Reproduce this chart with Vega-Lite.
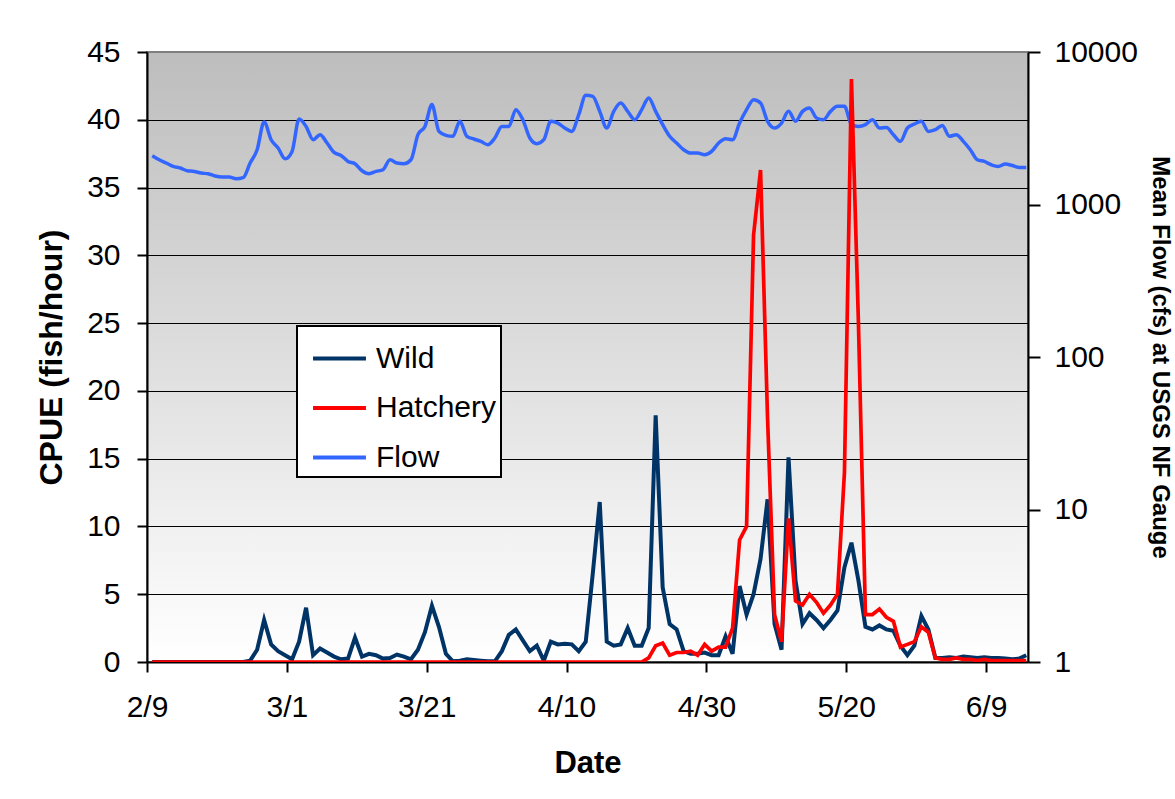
{
  "$schema": "https://vega.github.io/schema/vega-lite/v6.json",
  "autosize": {"type": "none"},
  "width": 881,
  "height": 610,
  "padding": {"left": 147, "top": 52, "right": 147, "bottom": 137},
  "background": "white",
  "data": {"values": [
    {"date":"2007-02-09T18:00:00","Wild":0,"Hatchery":0,"Flow":2089},
    {"date":"2007-02-10T18:00:00","Wild":0,"Hatchery":0,"Flow":1965},
    {"date":"2007-02-11T18:00:00","Wild":0,"Hatchery":0,"Flow":1870},
    {"date":"2007-02-12T18:00:00","Wild":0,"Hatchery":0,"Flow":1777},
    {"date":"2007-02-13T18:00:00","Wild":0,"Hatchery":0,"Flow":1735},
    {"date":"2007-02-14T18:00:00","Wild":0,"Hatchery":0,"Flow":1665},
    {"date":"2007-02-15T18:00:00","Wild":0,"Hatchery":0,"Flow":1648},
    {"date":"2007-02-16T18:00:00","Wild":0,"Hatchery":0,"Flow":1607},
    {"date":"2007-02-17T18:00:00","Wild":0,"Hatchery":0,"Flow":1592},
    {"date":"2007-02-18T18:00:00","Wild":0,"Hatchery":0,"Flow":1537},
    {"date":"2007-02-19T18:00:00","Wild":0,"Hatchery":0,"Flow":1514},
    {"date":"2007-02-20T18:00:00","Wild":0,"Hatchery":0,"Flow":1514},
    {"date":"2007-02-21T18:00:00","Wild":0,"Hatchery":0,"Flow":1475},
    {"date":"2007-02-22T18:00:00","Wild":0,"Hatchery":0,"Flow":1500},
    {"date":"2007-02-23T18:00:00","Wild":0.1,"Hatchery":0,"Flow":1870},
    {"date":"2007-02-24T18:00:00","Wild":0.9,"Hatchery":0,"Flow":2287},
    {"date":"2007-02-25T18:00:00","Wild":3.1,"Hatchery":0,"Flow":3475},
    {"date":"2007-02-26T18:00:00","Wild":1.3,"Hatchery":0,"Flow":2660},
    {"date":"2007-02-27T18:00:00","Wild":0.8,"Hatchery":0,"Flow":2345},
    {"date":"2007-02-28T18:00:00","Wild":0.5,"Hatchery":0,"Flow":1995},
    {"date":"2007-03-01T18:00:00","Wild":0.2,"Hatchery":0,"Flow":2230},
    {"date":"2007-03-02T18:00:00","Wild":1.5,"Hatchery":0,"Flow":3640},
    {"date":"2007-03-03T18:00:00","Wild":4.0,"Hatchery":0,"Flow":3250},
    {"date":"2007-03-04T18:00:00","Wild":0.5,"Hatchery":0,"Flow":2660},
    {"date":"2007-03-05T18:00:00","Wild":1.0,"Hatchery":0,"Flow":2870},
    {"date":"2007-03-06T18:00:00","Wild":0.7,"Hatchery":0,"Flow":2530},
    {"date":"2007-03-07T18:00:00","Wild":0.4,"Hatchery":0,"Flow":2196},
    {"date":"2007-03-08T18:00:00","Wild":0.2,"Hatchery":0,"Flow":2098},
    {"date":"2007-03-09T18:00:00","Wild":0.25,"Hatchery":0,"Flow":1915},
    {"date":"2007-03-10T18:00:00","Wild":1.8,"Hatchery":0,"Flow":1850},
    {"date":"2007-03-11T18:00:00","Wild":0.4,"Hatchery":0,"Flow":1665},
    {"date":"2007-03-12T18:00:00","Wild":0.6,"Hatchery":0,"Flow":1592},
    {"date":"2007-03-13T18:00:00","Wild":0.5,"Hatchery":0,"Flow":1648},
    {"date":"2007-03-14T18:00:00","Wild":0.25,"Hatchery":0,"Flow":1690},
    {"date":"2007-03-15T18:00:00","Wild":0.3,"Hatchery":0,"Flow":1965},
    {"date":"2007-03-16T18:00:00","Wild":0.55,"Hatchery":0,"Flow":1870},
    {"date":"2007-03-17T18:00:00","Wild":0.4,"Hatchery":0,"Flow":1850},
    {"date":"2007-03-18T18:00:00","Wild":0.2,"Hatchery":0,"Flow":1965},
    {"date":"2007-03-19T18:00:00","Wild":0.9,"Hatchery":0,"Flow":2870},
    {"date":"2007-03-20T18:00:00","Wild":2.2,"Hatchery":0,"Flow":3250},
    {"date":"2007-03-21T18:00:00","Wild":4.15,"Hatchery":0,"Flow":4518},
    {"date":"2007-03-22T18:00:00","Wild":2.6,"Hatchery":0,"Flow":3015},
    {"date":"2007-03-23T18:00:00","Wild":0.6,"Hatchery":0,"Flow":2840},
    {"date":"2007-03-24T18:00:00","Wild":0.05,"Hatchery":0,"Flow":2800},
    {"date":"2007-03-25T18:00:00","Wild":0.1,"Hatchery":0,"Flow":3510},
    {"date":"2007-03-26T18:00:00","Wild":0.2,"Hatchery":0,"Flow":2800},
    {"date":"2007-03-27T18:00:00","Wild":0.15,"Hatchery":0,"Flow":2688},
    {"date":"2007-03-28T18:00:00","Wild":0.1,"Hatchery":0,"Flow":2594},
    {"date":"2007-03-29T18:00:00","Wild":0.05,"Hatchery":0,"Flow":2466},
    {"date":"2007-03-30T18:00:00","Wild":0.05,"Hatchery":0,"Flow":2730},
    {"date":"2007-03-31T18:00:00","Wild":0.8,"Hatchery":0,"Flow":3250},
    {"date":"2007-04-01T18:00:00","Wild":2.0,"Hatchery":0,"Flow":3250},
    {"date":"2007-04-02T18:00:00","Wild":2.4,"Hatchery":0,"Flow":4187},
    {"date":"2007-04-03T18:00:00","Wild":1.6,"Hatchery":0,"Flow":3597},
    {"date":"2007-04-04T18:00:00","Wild":0.8,"Hatchery":0,"Flow":2730},
    {"date":"2007-04-05T18:00:00","Wild":1.2,"Hatchery":0,"Flow":2505},
    {"date":"2007-04-06T18:00:00","Wild":0.1,"Hatchery":0,"Flow":2660},
    {"date":"2007-04-07T18:00:00","Wild":1.5,"Hatchery":0,"Flow":3510},
    {"date":"2007-04-08T18:00:00","Wild":1.3,"Hatchery":0,"Flow":3420},
    {"date":"2007-04-09T18:00:00","Wild":1.35,"Hatchery":0,"Flow":3175},
    {"date":"2007-04-10T18:00:00","Wild":1.3,"Hatchery":0,"Flow":3015},
    {"date":"2007-04-11T18:00:00","Wild":0.8,"Hatchery":0,"Flow":3880},
    {"date":"2007-04-12T18:00:00","Wild":1.5,"Hatchery":0,"Flow":5200},
    {"date":"2007-04-13T18:00:00","Wild":6.5,"Hatchery":0,"Flow":5120},
    {"date":"2007-04-14T18:00:00","Wild":11.8,"Hatchery":0,"Flow":4080},
    {"date":"2007-04-15T18:00:00","Wild":1.5,"Hatchery":0,"Flow":3175},
    {"date":"2007-04-16T18:00:00","Wild":1.2,"Hatchery":0,"Flow":4080},
    {"date":"2007-04-17T18:00:00","Wild":1.3,"Hatchery":0,"Flow":4630},
    {"date":"2007-04-18T18:00:00","Wild":2.5,"Hatchery":0,"Flow":4080},
    {"date":"2007-04-19T18:00:00","Wild":1.2,"Hatchery":0,"Flow":3597},
    {"date":"2007-04-20T18:00:00","Wild":1.2,"Hatchery":0,"Flow":4187},
    {"date":"2007-04-21T18:00:00","Wild":2.5,"Hatchery":0.3,"Flow":5000},
    {"date":"2007-04-22T18:00:00","Wild":18.2,"Hatchery":1.2,"Flow":4080},
    {"date":"2007-04-23T18:00:00","Wild":5.5,"Hatchery":1.4,"Flow":3337},
    {"date":"2007-04-24T18:00:00","Wild":2.8,"Hatchery":0.5,"Flow":2800},
    {"date":"2007-04-25T18:00:00","Wild":2.4,"Hatchery":0.7,"Flow":2530},
    {"date":"2007-04-26T18:00:00","Wild":0.8,"Hatchery":0.7,"Flow":2287},
    {"date":"2007-04-27T18:00:00","Wild":0.6,"Hatchery":0.8,"Flow":2175},
    {"date":"2007-04-28T18:00:00","Wild":0.6,"Hatchery":0.5,"Flow":2175},
    {"date":"2007-04-29T18:00:00","Wild":0.7,"Hatchery":1.3,"Flow":2120},
    {"date":"2007-04-30T18:00:00","Wild":0.5,"Hatchery":0.8,"Flow":2230},
    {"date":"2007-05-01T18:00:00","Wild":0.5,"Hatchery":1.1,"Flow":2530},
    {"date":"2007-05-02T18:00:00","Wild":1.9,"Hatchery":1.1,"Flow":2700},
    {"date":"2007-05-03T18:00:00","Wild":0.6,"Hatchery":2.5,"Flow":2660},
    {"date":"2007-05-04T18:00:00","Wild":5.6,"Hatchery":9.0,"Flow":3420},
    {"date":"2007-05-05T18:00:00","Wild":3.5,"Hatchery":10,"Flow":4187},
    {"date":"2007-05-06T18:00:00","Wild":5.0,"Hatchery":31.5,"Flow":4866},
    {"date":"2007-05-07T18:00:00","Wild":7.6,"Hatchery":36.3,"Flow":4630},
    {"date":"2007-05-08T18:00:00","Wild":12.0,"Hatchery":18,"Flow":3510},
    {"date":"2007-05-09T18:00:00","Wild":2.8,"Hatchery":3.5,"Flow":3175},
    {"date":"2007-05-10T18:00:00","Wild":0.9,"Hatchery":1.5,"Flow":3420},
    {"date":"2007-05-11T18:00:00","Wild":15.1,"Hatchery":10.6,"Flow":4080},
    {"date":"2007-05-12T18:00:00","Wild":6.0,"Hatchery":4.5,"Flow":3510},
    {"date":"2007-05-13T18:00:00","Wild":2.8,"Hatchery":4.2,"Flow":4080},
    {"date":"2007-05-14T18:00:00","Wild":3.6,"Hatchery":5.0,"Flow":4295},
    {"date":"2007-05-15T18:00:00","Wild":3.1,"Hatchery":4.4,"Flow":3690},
    {"date":"2007-05-16T18:00:00","Wild":2.5,"Hatchery":3.6,"Flow":3597},
    {"date":"2007-05-17T18:00:00","Wild":3.1,"Hatchery":4.2,"Flow":4080},
    {"date":"2007-05-18T18:00:00","Wild":3.8,"Hatchery":5.0,"Flow":4403},
    {"date":"2007-05-19T18:00:00","Wild":7.0,"Hatchery":14,"Flow":4403},
    {"date":"2007-05-20T18:00:00","Wild":8.8,"Hatchery":43,"Flow":3337},
    {"date":"2007-05-21T18:00:00","Wild":6.0,"Hatchery":25,"Flow":3250},
    {"date":"2007-05-22T18:00:00","Wild":2.6,"Hatchery":3.5,"Flow":3337},
    {"date":"2007-05-23T18:00:00","Wild":2.4,"Hatchery":3.5,"Flow":3597},
    {"date":"2007-05-24T18:00:00","Wild":2.7,"Hatchery":3.9,"Flow":3175},
    {"date":"2007-05-25T18:00:00","Wild":2.4,"Hatchery":3.3,"Flow":3200},
    {"date":"2007-05-26T18:00:00","Wild":2.3,"Hatchery":3.0,"Flow":2870},
    {"date":"2007-05-27T18:00:00","Wild":1.2,"Hatchery":1.1,"Flow":2594},
    {"date":"2007-05-28T18:00:00","Wild":0.5,"Hatchery":1.3,"Flow":3175},
    {"date":"2007-05-29T18:00:00","Wild":1.2,"Hatchery":1.5,"Flow":3370},
    {"date":"2007-05-30T18:00:00","Wild":3.4,"Hatchery":2.6,"Flow":3510},
    {"date":"2007-05-31T18:00:00","Wild":2.4,"Hatchery":2.2,"Flow":3015},
    {"date":"2007-06-01T18:00:00","Wild":0.3,"Hatchery":0.3,"Flow":3093},
    {"date":"2007-06-02T18:00:00","Wild":0.3,"Hatchery":0.2,"Flow":3300},
    {"date":"2007-06-03T18:00:00","Wild":0.35,"Hatchery":0.2,"Flow":2800},
    {"date":"2007-06-04T18:00:00","Wild":0.3,"Hatchery":0.3,"Flow":2870},
    {"date":"2007-06-05T18:00:00","Wild":0.4,"Hatchery":0.2,"Flow":2594},
    {"date":"2007-06-06T18:00:00","Wild":0.35,"Hatchery":0.2,"Flow":2287},
    {"date":"2007-06-07T18:00:00","Wild":0.3,"Hatchery":0.1,"Flow":1965},
    {"date":"2007-06-08T18:00:00","Wild":0.35,"Hatchery":0.2,"Flow":1915},
    {"date":"2007-06-09T18:00:00","Wild":0.3,"Hatchery":0.1,"Flow":1822},
    {"date":"2007-06-10T18:00:00","Wild":0.3,"Hatchery":0.1,"Flow":1777},
    {"date":"2007-06-11T18:00:00","Wild":0.25,"Hatchery":0.1,"Flow":1840},
    {"date":"2007-06-12T18:00:00","Wild":0.2,"Hatchery":0.1,"Flow":1800},
    {"date":"2007-06-13T18:00:00","Wild":0.25,"Hatchery":0.1,"Flow":1750},
    {"date":"2007-06-14T18:00:00","Wild":0.5,"Hatchery":0.1,"Flow":1750}
  ]},
  "encoding": {
    "x": {
      "field": "date", "type": "temporal",
      "scale": {"domain": [{"year": 2007, "month": 2, "date": 9}, {"year": 2007, "month": 6, "date": 15}]},
      "axis": {
        "title": "Date",
        "titleFontSize": 31,
        "format": "%-m/%-d",
        "values": [
          {"year": 2007, "month": 2, "date": 9},
          {"year": 2007, "month": 3, "date": 1},
          {"year": 2007, "month": 3, "date": 21},
          {"year": 2007, "month": 4, "date": 10},
          {"year": 2007, "month": 4, "date": 30},
          {"year": 2007, "month": 5, "date": 20},
          {"year": 2007, "month": 6, "date": 9}
        ],
        "grid": false,
        "tickSize": 10,
        "labelPadding": 20,
        "titlePadding": 26,
        "labelFlush": false,
        "labelOverlap": false
      }
    }
  },
  "layer": [
    {
      "mark": {"type": "line", "strokeWidth": 3.5, "clip": true, "interpolate": "monotone"},
      "encoding": {
        "y": {
          "field": "Flow", "type": "quantitative",
          "scale": {"type": "log", "domain": [1, 10000], "nice": false},
          "axis": {
            "orient": "right",
            "title": "Mean Flow (cfs) at USGS NF Gauge",
            "titleFontSize": 24,
            "values": [1, 10, 100, 1000, 10000],
            "format": "d",
            "grid": false,
            "tickSize": 12,
            "labelPadding": 14,
            "titlePadding": 10
          }
        },
        "color": {
          "datum": "Flow", "type": "nominal",
          "scale": {"domain": ["Wild", "Hatchery", "Flow"], "range": ["#003366", "#ff0000", "#3366ff"]},
          "legend": {"title": null}
        }
      }
    },
    {
      "layer": [
        {
          "mark": {"type": "line", "strokeWidth": 4, "clip": true},
          "encoding": {
            "y": {
              "field": "Wild", "type": "quantitative",
              "scale": {"domain": [0, 45], "nice": false},
              "axis": {
                "title": "CPUE (fish/hour)",
                "titleFontSize": 32,
                "values": [0, 5, 10, 15, 20, 25, 30, 35, 40, 45],
                "grid": true,
                "gridColor": {"condition": {"test": "datum.value >= 45 || datum.value <= 0", "value": "transparent"}, "value": "black"},
                "tickSize": 10,
                "labelPadding": 17,
                "titlePadding": 18
              }
            },
            "color": {
              "datum": "Wild", "type": "nominal",
              "scale": {"domain": ["Wild", "Hatchery", "Flow"], "range": ["#003366", "#ff0000", "#3366ff"]}
            }
          }
        },
        {
          "mark": {"type": "line", "strokeWidth": 3.7, "clip": true},
          "encoding": {
            "y": {"field": "Hatchery", "type": "quantitative", "title": "CPUE (fish/hour)"},
            "color": {
              "datum": "Hatchery", "type": "nominal",
              "scale": {"domain": ["Wild", "Hatchery", "Flow"], "range": ["#003366", "#ff0000", "#3366ff"]}
            }
          }
        }
      ]
    }
  ],
  "resolve": {"scale": {"y": "independent"}},
  "config": {
    "view": {
      "fill": {"gradient": "linear", "x1": 0, "y1": 0, "x2": 0, "y2": 1, "stops": [{"offset": 0, "color": "#bdbdbd"}, {"offset": 1, "color": "#ffffff"}]},
      "stroke": "#808080",
      "strokeWidth": 2
    },
    "axis": {
      "labelFont": "Liberation Sans",
      "titleFont": "Liberation Sans",
      "labelFontSize": 30,
      "titleFontSize": 31,
      "titleFontWeight": "bold",
      "labelColor": "black",
      "titleColor": "black",
      "domainColor": "black",
      "domainWidth": 2,
      "tickColor": "black",
      "tickWidth": 2,
      "gridWidth": 1
    },
    "legend": {
      "orient": "none",
      "legendX": 150,
      "legendY": 274,
      "direction": "vertical",
      "symbolType": "stroke",
      "symbolSize": 2800,
      "symbolStrokeWidth": 4,
      "symbolOffset": 10,
      "labelFont": "Liberation Sans",
      "labelFontSize": 30,
      "labelColor": "black",
      "labelOffset": 8,
      "rowPadding": 5.5,
      "padding": 4,
      "strokeColor": "black",
      "strokeWidth": 2,
      "fillColor": "white"
    }
  }
}
